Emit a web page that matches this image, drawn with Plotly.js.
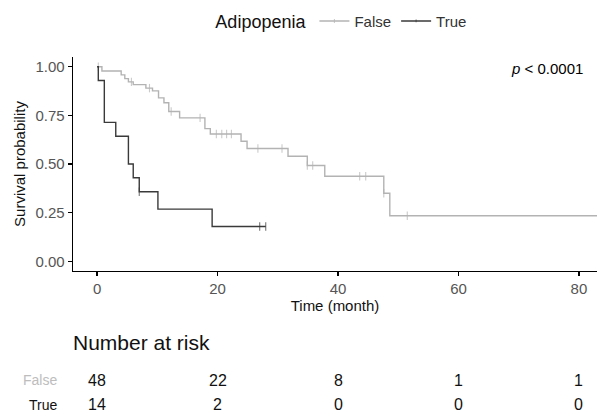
<!DOCTYPE html>
<html>
<head>
<meta charset="utf-8">
<script src="https://cdn.plot.ly/plotly-3.0.1.min.js"></script>
<style>html,body{margin:0;padding:0;background:#fff;}#chart{width:597px;height:414px;}</style>
</head>
<body>
<div id="chart"></div>
<script>
// ---- data ----
const groups = ["False", "True"];
const legendTitle = "Adipopenia";

// Kaplan-Meier steps (time in months, survival after the step)
const falseTimes = [0, 0.8, 4.0, 4.6, 5.2, 6.0, 8.1, 9.2, 10.2, 11.1, 11.9, 13.7, 17.9, 18.8, 23.9, 24.9, 31.7, 34.9, 37.8, 47.6, 48.6];
const falseSurv  = [1, 0.978, 0.958, 0.939, 0.922, 0.908, 0.89, 0.876, 0.84, 0.815, 0.77, 0.737, 0.682, 0.654, 0.617, 0.58, 0.54, 0.492, 0.437, 0.35, 0.234];
const falseCensor = [0.2, 5.7, 8.7, 12.3, 17.1, 19.8, 20.7, 21.5, 22.3, 26.7, 30.7, 34.9, 35.8, 43.6, 44.6, 47.6, 51.5, 85];

const trueTimes = [0, 0.2, 1.2, 3.1, 5.2, 6.0, 7.0, 10.1, 19.1];
const trueSurv  = [1, 0.929, 0.714, 0.643, 0.5, 0.429, 0.357, 0.268, 0.179];
const trueCensor = [7.0, 27.0, 28.0];

// risk table
const riskTimes = [0, 20, 40, 60, 80];
const riskFalse = [48, 22, 8, 1, 1];
const riskTrue  = [14, 2, 0, 0, 0];

const xTicks = [0, 20, 40, 60, 80];
const yTicks = [0, 0.25, 0.5, 0.75, 1];
const pText = "<i>p</i> < 0.0001";

// ---- build step curves with censor marks ----
function survAt(times, surv, t) {
  let s = surv[0];
  for (let i = 0; i < times.length; i++) { if (times[i] <= t) s = surv[i]; }
  return s;
}
function buildCurve(times, surv, censor) {
  const pts = [];
  times.forEach((t, i) => pts.push({t: t, s: surv[i], c: false, o: 0}));
  censor.forEach(t => pts.push({t: t, s: survAt(times, surv, t), c: true, o: 1}));
  pts.sort((a, b) => a.t - b.t || a.o - b.o);
  return {
    x: pts.map(p => p.t),
    y: pts.map(p => p.s),
    size: pts.map(p => p.c ? 6 : 0)
  };
}

const colors = {False: "#b3b3b3", True: "#3a3a3a"};
const curves = {
  False: buildCurve(falseTimes, falseSurv, falseCensor),
  True: buildCurve(trueTimes, trueSurv, trueCensor)
};

const font = "Liberation Sans, Arial, sans-serif";

const traces = groups.map(g => ({
  type: "scatter",
  mode: "lines+markers",
  name: g,
  x: curves[g].x,
  y: curves[g].y,
  line: {shape: "hv", color: colors[g], width: 1.4},
  marker: {symbol: "line-ns-open", size: curves[g].size, color: colors[g], line: {color: colors[g], width: 1.1}},
  hoverinfo: "x+y"
}));

const annotations = [];
annotations.push({
  xref: "paper", yref: "paper", x: 0.977, y: 0.945, xanchor: "right", yanchor: "middle",
  text: pText, showarrow: false, font: {family: font, size: 15, color: "#000"}
});
annotations.push({
  xref: "paper", yref: "paper", x: -0.004, y: -0.335, xanchor: "left", yanchor: "middle",
  text: "Number at risk", showarrow: false, font: {family: font, size: 21, color: "#111"}
});
const rowY = {False: -0.51, True: -0.625};
const rowColor = {False: "#bdbdbd", True: "#111"};
const riskVals = {False: riskFalse, True: riskTrue};
groups.forEach(g => {
  annotations.push({
    xref: "paper", yref: "paper", x: -0.026, y: rowY[g], xanchor: "right", yanchor: "middle",
    text: g, showarrow: false, font: {family: font, size: 14, color: rowColor[g]}
  });
  riskTimes.forEach((t, i) => {
    annotations.push({
      xref: "x", yref: "paper", x: t, y: rowY[g], xanchor: "center", yanchor: "middle",
      text: String(riskVals[g][i]), showarrow: false, font: {family: font, size: 16, color: "#111"}
    });
  });
});

const layout = {
  width: 597, height: 414,
  margin: {l: 73, r: 0, t: 57, b: 143},
  paper_bgcolor: "#fff", plot_bgcolor: "#fff",
  font: {family: font, color: "#111"},
  showlegend: true,
  legend: {
    orientation: "h", x: 0.515, xanchor: "center", y: 1.165, yanchor: "middle",
    title: {text: legendTitle, font: {family: font, size: 18, color: "#111"}, side: "left"},
    font: {family: font, size: 15, color: "#333"},
    itemwidth: 30, tracegroupgap: 0
  },
  xaxis: {
    range: [-4, 83], tickvals: xTicks, ticktext: xTicks.map(String),
    showline: true, linecolor: "#000", linewidth: 1.3, zeroline: false, showgrid: false,
    ticks: "outside", ticklen: 4, tickcolor: "#000", tickwidth: 1.3,
    tickfont: {family: font, size: 15, color: "#555"},
    title: {text: "Time (month)", font: {family: font, size: 15, color: "#111"}, standoff: 4}
  },
  yaxis: {
    range: [-0.05, 1.05], tickvals: yTicks, ticktext: yTicks.map(v => v.toFixed(2)),
    showline: true, linecolor: "#000", linewidth: 1.3, zeroline: false, showgrid: false,
    ticks: "outside", ticklen: 4, tickcolor: "#000", tickwidth: 1.3,
    tickfont: {family: font, size: 15, color: "#555"},
    title: {text: "Survival probability", font: {family: font, size: 15, color: "#111"}, standoff: 6}
  },
  annotations: annotations
};

Plotly.newPlot("chart", traces, layout, {staticPlot: true, displayModeBar: false});
</script>
</body>
</html>
